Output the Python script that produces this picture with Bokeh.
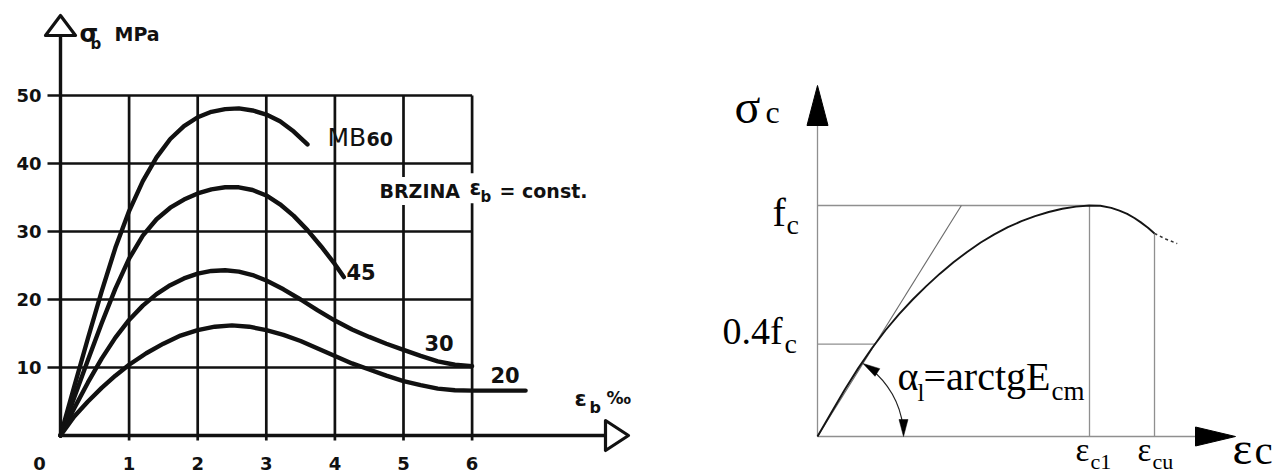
import math
import numpy as np
from bokeh.plotting import figure
from bokeh.layouts import row
from bokeh.models import Label, Range1d
from bokeh.embed import file_html
from bokeh.resources import INLINE

# ===================== DATA : left panel (sigma_b [MPa] vs eps_b [permille]) =====================
x_ticks = [0, 1, 2, 3, 4, 5, 6]
x_tick_labels = ["0", "1", "2", "3", "4", "5", "6"]
y_ticks = [10, 20, 30, 40, 50]
y_tick_labels = ["10", "20", "30", "40", "50"]

mb60_eps = [0, 0.2, 0.4, 0.6, 0.8, 1.0, 1.2, 1.4, 1.6, 1.8, 2.0, 2.2, 2.4, 2.6, 2.8, 3.0, 3.2, 3.4, 3.6]
mb60_sig = [0, 7.2, 14.3, 21.2, 27.6, 33.0, 37.4, 40.9, 43.6, 45.5, 46.8, 47.6, 48.0, 48.1, 47.8, 47.2, 46.2, 44.7, 42.8]

mb45_eps = [0, 0.2, 0.4, 0.6, 0.8, 1.0, 1.2, 1.4, 1.6, 1.8, 2.0, 2.2, 2.4, 2.6, 2.8, 3.0, 3.2, 3.4,
            3.6, 3.8, 4.0, 4.13]
mb45_sig = [0, 5.6, 11.1, 16.5, 21.6, 26.0, 29.4, 31.8, 33.5, 34.7, 35.6, 36.2, 36.5, 36.5, 36.1, 35.3,
            34.0, 32.3, 30.2, 27.8, 25.2, 23.3]

mb30_eps = [0, 0.2, 0.4, 0.6, 0.8, 1.0, 1.2, 1.4, 1.6, 1.8, 2.0, 2.2, 2.4, 2.6, 2.8, 3.0, 3.25, 3.5,
            3.75, 4.0, 4.25, 4.5, 4.75, 5.0, 5.25, 5.5, 5.75, 6.0]
mb30_sig = [0, 4.0, 7.8, 11.3, 14.4, 17.0, 19.1, 20.8, 22.1, 23.1, 23.8, 24.2, 24.3, 24.1, 23.6, 22.8,
            21.5, 20.0, 18.4, 16.9, 15.6, 14.5, 13.5, 12.6, 11.7, 10.9, 10.4, 10.2]

mb20_eps = [0, 0.2, 0.4, 0.6, 0.8, 1.0, 1.25, 1.5, 1.75, 2.0, 2.25, 2.5, 2.75, 3.0, 3.25, 3.5, 3.75,
            4.0, 4.25, 4.5, 4.75, 5.0, 5.25, 5.5, 5.75, 6.0, 6.78]
mb20_sig = [0, 2.8, 5.0, 7.0, 8.8, 10.4, 12.1, 13.5, 14.7, 15.5, 16.0, 16.2, 16.0, 15.5, 14.8, 13.9, 12.8,
            11.7, 10.6, 9.7, 8.8, 8.0, 7.4, 6.9, 6.65, 6.6, 6.6]

curve_names = ["MB", "60", "45", "30", "20"]

# ===================== DATA : right panel (schematic sigma_c - eps_c) =====================
fc = 1.0
eps_c1 = 2.0
eps_cu = 2.478
sc_eps = [0, 0.1, 0.2, 0.3, 0.4, 0.5, 0.6, 0.7, 0.8, 0.9, 1.0, 1.1, 1.2, 1.3, 1.4, 1.5, 1.6, 1.7, 1.8,
          1.9, 2.0, 2.08, 2.16, 2.22, 2.277, 2.33, 2.375, 2.43, 2.478]
sc_sig = [0, 0.102, 0.202, 0.296, 0.382, 0.460, 0.530, 0.593, 0.651, 0.705, 0.754, 0.799, 0.840, 0.875,
          0.906, 0.932, 0.954, 0.972, 0.986, 0.995, 1.0, 0.999, 0.990, 0.978, 0.964, 0.946, 0.928,
          0.904, 0.879]
tail_eps = [2.478, 2.56, 2.645]
tail_sig = [0.879, 0.855, 0.835]

# ===================== LAYOUT =====================
H = 474
W1, W2 = 658, 627
PAGE = 0
# left panel: page position of data origin and px per unit
L_OX, L_OY, L_SX, L_SY = 60.0, 435.0, 68.6, 6.8
# right panel
R_LEFT = PAGE + W1
R_OX, R_OY, R_SX, R_SY = 817.0, 436.0, 136.0, 231.0
BASE_FIX = 0.34   # alphabetic-baseline labels render ~0.34em low; lift them by this much


def lx(px):
    return (px - L_OX) / L_SX


def ly(py):
    return (L_OY - py) / L_SY


def rx(px):
    return (px - R_OX) / R_SX


def ry(py):
    return (R_OY - py) / R_SY


def make_fig(w, x0, x1, y0, y1):
    p = figure(width=w, height=H, x_range=Range1d(x0, x1), y_range=Range1d(y0, y1),
               x_axis_type=None, y_axis_type=None, output_backend="svg",
               toolbar_location=None, min_border=0, min_border_left=0, min_border_right=0,
               min_border_top=0, min_border_bottom=0, outline_line_color=None,
               background_fill_color="white", border_fill_color="white")
    p.grid.visible = False
    return p


# ---------------------------------------------------------------- left panel
p1 = make_fig(W1, lx(PAGE), lx(PAGE + W1), ly(PAGE + H), ly(PAGE))
INK = "#111111"
tick_x = 13.0 / L_SX       # grid lines reach a little left of the y axis
tick_y = 5.0 / L_SY        # vertical lines reach a little below the x axis
xmax = x_ticks[-1]
ymax = y_ticks[-1]

p1.multi_line(xs=[[-tick_x, xmax] for _ in y_ticks], ys=[[v, v] for v in y_ticks],
              line_color=INK, line_width=2.7)
p1.multi_line(xs=[[v, v] for v in x_ticks[1:]], ys=[[-tick_y, ymax] for _ in x_ticks[1:]],
              line_color=INK, line_width=2.7)

# axes with open arrow heads
x_axis_end = lx(605)
x_arrow_tip = lx(628)
y_axis_end = ly(35)
y_arrow_tip = ly(15)
p1.line([0, x_axis_end], [0, 0], line_color=INK, line_width=3.4)
p1.line([0, 0], [0, y_axis_end], line_color=INK, line_width=3.4)
hw_y = 15.0 / L_SX
p1.patch([-hw_y, 0, hw_y], [y_axis_end, y_arrow_tip, y_axis_end],
         fill_color="white", line_color=INK, line_width=3.2, line_join="round")
hh_x = 15.0 / L_SY
p1.patch([x_axis_end, x_arrow_tip, x_axis_end], [hh_x, 0, -hh_x],
         fill_color="white", line_color=INK, line_width=3.2, line_join="round")

for e, s in [(mb60_eps, mb60_sig), (mb45_eps, mb45_sig), (mb30_eps, mb30_sig), (mb20_eps, mb20_sig)]:
    p1.line(e, s, line_color=INK, line_width=4.4, line_cap="round", line_join="round")

SANS = "DejaVu Sans"


def lab(p, x, y, t, size, font=SANS, style="bold", align="left", base="alphabetic", bg=None):
    kw = {}
    if bg is not None:
        kw = dict(background_fill_color=bg, padding=3)
    yoff = BASE_FIX * size if base == "alphabetic" else 0
    p.add_layout(Label(x=x, y=y, y_offset=yoff, text=t, text_font=font, text_font_size=f"{size}px",
                       text_font_style=style, text_align=align, text_baseline=base,
                       text_color=INK if p is p1 else "black", **kw))


for v, t in zip(y_ticks, y_tick_labels):
    lab(p1, lx(41), v, t, 18, align="right", base="middle")
for v, t in zip(x_ticks, x_tick_labels):
    xx = v if v != 0 else lx(39)
    lab(p1, xx, ly(469), t, 18, align="center")

lab(p1, lx(79), ly(42), "σ", 24)
lab(p1, lx(90), ly(49), "b", 15)
lab(p1, lx(114), ly(40), "MPa", 19)

lab(p1, lx(327), ly(145), curve_names[0], 25, style="normal")
lab(p1, lx(366), ly(145), curve_names[1], 19)
lab(p1, lx(346), 24.0, curve_names[2], 21, base="middle")
lab(p1, lx(424), 13.6, curve_names[3], 21, base="middle")
lab(p1, lx(490), 8.9, curve_names[4], 21, base="middle")

lab(p1, lx(376), ly(197), "BRZINA", 19, bg="white")
lab(p1, lx(466), ly(195), "ε", 21, bg="white")
lab(p1, lx(480), ly(202), "b", 15)
lab(p1, lx(496), ly(197), "= const.", 19, bg="white")

lab(p1, lx(574), ly(405), "ε", 22)
lab(p1, lx(589), ly(412), "b", 16)
lab(p1, lx(606), ly(403), "‰", 17)

# ---------------------------------------------------------------- right panel
p2 = make_fig(W2, rx(R_LEFT), rx(R_LEFT + W2), ry(PAGE + H), ry(PAGE))
GREY = "#8f8f8f"

i_peak = sc_sig.index(max(sc_sig))
x04 = float(np.interp(0.4 * fc, sc_sig[:i_peak + 1], sc_eps[:i_peak + 1]))
eps_sec_top = x04 / 0.4 * fc
sig_cu = sc_sig[-1]

ax_y_end = ry(125)
ax_y_tip = ry(85)
ax_x_end = rx(1195)
ax_x_tip = rx(1235)

p2.multi_line(
    xs=[[0, 0], [0, ax_x_end], [0, eps_c1], [0, x04], [eps_c1, eps_c1], [eps_cu, eps_cu]],
    ys=[[0, ax_y_end], [0, 0], [fc, fc], [0.4 * fc, 0.4 * fc], [0, fc], [0, sig_cu]],
    line_color=GREY, line_width=1.3)
p2.line([0, eps_sec_top], [0, fc], line_color="#6a6a6a", line_width=1.1)
p2.line(sc_eps, sc_sig, line_color="#141414", line_width=1.9, line_join="round")
p2.line(tail_eps, tail_sig, line_color="#333333", line_width=1.5, line_dash="3 3")

# axis arrow heads (filled)
p2.patch([-10.5 / R_SX, 0, 10.5 / R_SX], [ax_y_end, ax_y_tip, ax_y_end], fill_color="black", line_color="black")
p2.patch([ax_x_end, ax_x_tip, ax_x_end], [9.5 / R_SY, 0, -9.5 / R_SY], fill_color="black", line_color="black")

# angle arc alpha_1 between x axis and secant
r_arc = 86.0
theta = math.atan2(fc * R_SY, eps_sec_top * R_SX)
head_len, head_w = 17.0, 9.0
p2.arc(x=[0], y=[0], radius=r_arc, radius_units="screen", start_angle=0.12, end_angle=theta - 0.1,
       line_color="#222222", line_width=1.2)


def head(a, sign):
    # tip at arc angle a, pointing along tangent (sign=+1 anticlockwise, -1 clockwise), in px
    tx, ty = r_arc * math.cos(a), r_arc * math.sin(a)
    dx, dy = -math.sin(a) * sign, math.cos(a) * sign
    bx, by = tx - head_len * dx, ty - head_len * dy
    nx, ny = math.cos(a), math.sin(a)
    pts = [(bx + nx * head_w / 2, by + ny * head_w / 2), (tx, ty), (bx - nx * head_w / 2, by - ny * head_w / 2)]
    return [q[0] / R_SX for q in pts], [q[1] / R_SY for q in pts]


for a, sgn in [(theta, 1), (0.0, -1)]:
    hx, hy = head(a, sgn)
    p2.patch(hx, hy, fill_color="black", line_color="black", line_width=0.5)

SERIF = "Liberation Serif"
lab(p2, rx(734), ry(122), "σ", 48, font=SERIF, style="normal")
lab(p2, rx(765), ry(122), "c", 32, font=SERIF, style="normal")
lab(p2, rx(772), ry(226), "f", 40, font=SERIF, style="normal")
lab(p2, rx(786), ry(234), "c", 28, font=SERIF, style="normal")
lab(p2, rx(722), ry(343), "0.4f", 38, font=SERIF, style="normal")
lab(p2, rx(784), ry(353), "c", 28, font=SERIF, style="normal")
lab(p2, rx(897), ry(390), "α", 40, font=SERIF, style="normal")
lab(p2, rx(917), ry(400), "l", 25, font=SERIF, style="normal")
lab(p2, rx(923), ry(390), "=arctgE", 40, font=SERIF, style="normal")
lab(p2, rx(1051), ry(400), "cm", 27, font=SERIF, style="normal")
lab(p2, rx(1075), ry(461), "ε", 33, font=SERIF, style="normal")
lab(p2, rx(1090), ry(468), "c1", 22, font=SERIF, style="normal")
lab(p2, rx(1137), ry(461), "ε", 33, font=SERIF, style="normal")
lab(p2, rx(1152), ry(468), "cu", 22, font=SERIF, style="normal")
lab(p2, rx(1232), ry(463), "ε", 47, font=SERIF, style="normal")
lab(p2, rx(1254), ry(463), "c", 41, font=SERIF, style="normal")

layout = row(p1, p2)
open("out.html", "w").write(file_html(layout, INLINE))
